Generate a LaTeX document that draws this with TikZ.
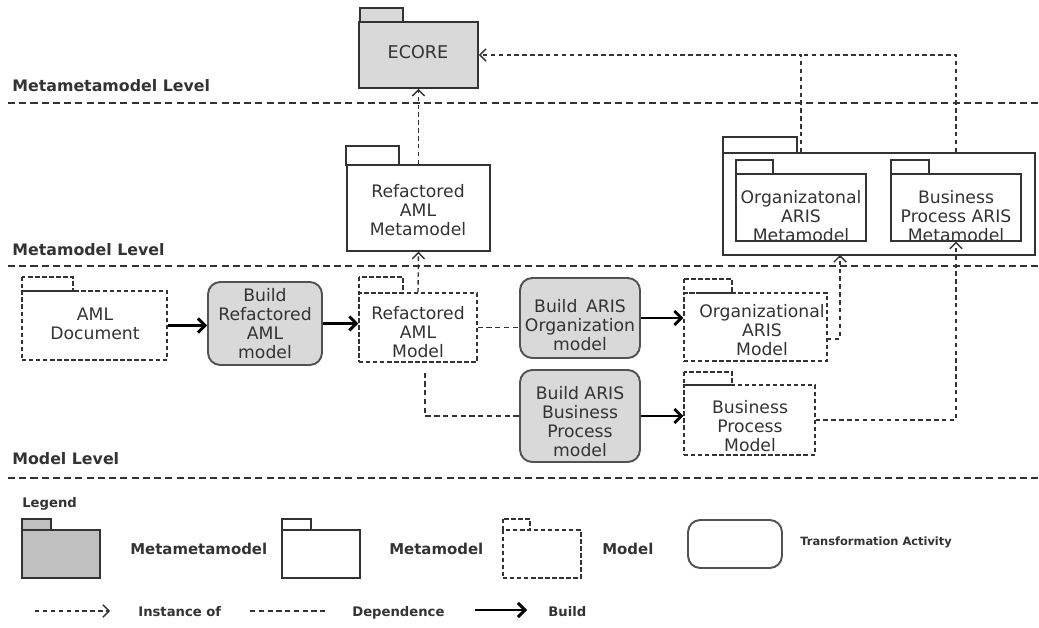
\documentclass[tikz,border=0pt]{standalone}
\usepackage{fontspec}
\setmainfont{DejaVu Sans}
\usetikzlibrary{arrows.meta,fit,calc}
\definecolor{ln}{HTML}{333333}
\definecolor{gfill}{HTML}{D9D9D9}
\definecolor{lgfill}{HTML}{C0C0C0}
\tikzset{
 pkg/.style={draw=ln, line width=0.8pt, inner sep=0pt},
 mdl/.style={draw=ln, line width=0.6pt, dash pattern=on 2.5pt off 1.5pt, inner sep=0pt},
 act/.style={draw=ln!85, line width=1.1pt, fill=gfill, rounded corners=7pt, inner sep=0pt},
 txt/.style={align=center, text=ln, inner sep=0pt, font=\fontsize{9.8}{10.8}\selectfont},
 lvl/.style={anchor=base west, inner sep=0pt, font=\bfseries\fontsize{9}{10}\selectfont, text=ln},
 leg/.style={anchor=base west, inner sep=0pt, font=\bfseries\fontsize{7.5}{9}\selectfont, text=ln},
 sep/.style={draw=ln, line width=0.9pt, dash pattern=on 4pt off 2.4pt},
 inst/.style={draw=ln, line width=0.8pt, dash pattern=on 2.5pt off 2pt, -{Straight Barb[length=3.5pt,width=7pt]}},
 instline/.style={draw=ln, line width=0.8pt, dash pattern=on 2.5pt off 2pt},
 dep/.style={draw=ln, line width=0.8pt, dash pattern=on 3pt off 2pt},
 bld/.style={draw=black, line width=1.7pt, -{Straight Barb[length=4pt,width=8pt,line width=1.7pt]}},
}
\begin{document}
\begin{tikzpicture}[x=0.02cm,y=-0.02cm]
\useasboundingbox (0,0) rectangle (1039,628);

% level separators and labels
\draw[sep] (8,103) -- (1039,103);
\draw[sep] (8,266) -- (1039,266);
\draw[sep] (8,478) -- (1039,478);
\node[lvl] (lvlA) at (12,92) {Metametamodel Level};
\node[lvl] (lvlB) at (12,256) {Metamodel Level};
\node[lvl] (lvlC) at (12,465) {Model Level};

% ECORE
\node[pkg, line width=1pt, fill=gfill, fit={(359,22)(478,88)}] (ecore) {};
\draw[pkg, line width=1pt, fill=gfill] (360,8) rectangle (403,22);
\node[txt, font=\fontsize{10}{11}\selectfont] (ecoreT) at (418,52) {ECORE};

% Refactored AML Metamodel
\node[pkg, fit={(347,165)(490,251)}] (ram) {};
\draw[pkg] (346,146) rectangle (399,165);
\node[txt] (ramT) at (418,210) {Refactored\\AML\\Metamodel};

% ARIS container
\node[pkg, fit={(723,153)(1035,255)}] (cont) {};
\draw[pkg] (723,137) rectangle (797,153);
\node[pkg, fit={(736,174)(866,241)}] (orgmm) {};
\draw[pkg] (736,160) rectangle (773,174);
\node[txt] (orgmmT) at (801,216) {Organizatonal\\ARIS\\Metamodel};
\node[pkg, fit={(891,174)(1021,241)}] (bpmm) {};
\draw[pkg] (891,160) rectangle (929,174);
\node[txt] (bpmmT) at (956,216) {Business\\Process ARIS\\Metamodel};

% model level
\node[mdl, fit={(22,291)(167,360)}] (amldoc) {};
\draw[mdl] (22,277) rectangle (73,291);
\node[txt] (amldocT) at (95,324) {AML\\Document};
\node[act, fit={(208,282)(322,365)}] (brm) {};
\node[txt] (brmT) at (265,324) {Build\\Refactored\\AML\\model};
\node[mdl, fit={(359,293)(477,362)}] (rmod) {};
\draw[mdl] (359,277) rectangle (403,293);
\node[txt] (rmodT) at (418,332) {Refactored\\AML\\Model};
\node[act, fit={(520,278)(640,358)}] (boo) {};
\node[txt] (booT) at (580,325) {Build\enspace ARIS\\Organization\\model};
\node[mdl, fit={(684,293)(827,361)}] (oam) {};
\draw[mdl] (684,279) rectangle (732,293);
\node[txt] (oamT) at (762,330) {Organizational\\ARIS\\Model};
\node[act, fit={(520,370)(640,462)}] (bbp) {};
\node[txt] (bbpT) at (580,422) {Build ARIS\\Business\\Process\\model};
\node[mdl, fit={(684,385)(815,455)}] (bpm) {};
\draw[mdl] (684,372) rectangle (732,385);
\node[txt] (bpmT) at (750,426) {Business\\Process\\Model};

% instance-of connectors
\draw[inst] (ram.north) -- (ecore.south);
\draw[inst] (orgmm.north |- cont.north) |- (ecore.east);
\draw[instline] (bpmm.north |- cont.north) |- (orgmm.north |- ecore.east);
\draw[inst] (rmod.north) -- (ram.south);
\coordinate (oaOut) at (827,339);
\coordinate (oaIn) at (840,255);
\draw[inst] (oaOut) -| (oaIn);
\draw[inst] (bpm.east) -| (bpmm.south);

% dependence
\draw[dep] (rmod.east) -- (rmod.east -| boo.west);
\draw[dep] (rmod.south) ++(7,10) |- (bbp.west);

% build arrows
\draw[bld] (amldoc.east) -- (amldoc.east -| brm.west);
\draw[bld] (brm.east) -- (brm.east -| rmod.west);
\draw[bld] (boo.east) -- (boo.east -| oam.west);
\draw[bld] (bbp.east) -- (bbp.east -| bpm.west);

% legend
\node[leg] (legT) at (22,507) {Legend};
\node[pkg, fill=lgfill, fit={(22,530)(100,578)}] (lmm) {};
\draw[pkg, fill=lgfill] (22,519) rectangle (51,530);
\node[leg, font=\bfseries\fontsize{8.5}{10}\selectfont] (lmmT) at (130,555) {Metametamodel};
\node[pkg, fit={(282,530)(360,578)}] (lm) {};
\draw[pkg] (282,519) rectangle (311,530);
\node[leg, font=\bfseries\fontsize{8.5}{10}\selectfont] (lmT) at (389,555) {Metamodel};
\node[mdl, fit={(503,530)(581,578)}] (lmod) {};
\draw[mdl] (503,519) rectangle (530,530);
\node[leg, font=\bfseries\fontsize{8.5}{10}\selectfont] (lmodT) at (602,555) {Model};
\node[act, fill=white, fit={(688,520)(782,568)}] (lact) {};
\node[leg, font=\bfseries\fontsize{6.5}{8}\selectfont] (lactT) at (800,545) {Transformation Activity};

\coordinate (i1) at (35,611);
\coordinate (i2) at (110,611);
\draw[inst] (i1) -- (i2);
\node[leg] (iT) at (138,616) {Instance of};
\coordinate (d1) at (250,611);
\coordinate (d2) at (325,611);
\draw[dep] (d1) -- (d2);
\node[leg] (dT) at (352,616) {Dependence};
\coordinate (b1) at (475,610);
\coordinate (b2) at (527,610);
\draw[bld] (b1) -- (b2);
\node[leg] (bT) at (548,616) {Build};
\end{tikzpicture}
\end{document}
